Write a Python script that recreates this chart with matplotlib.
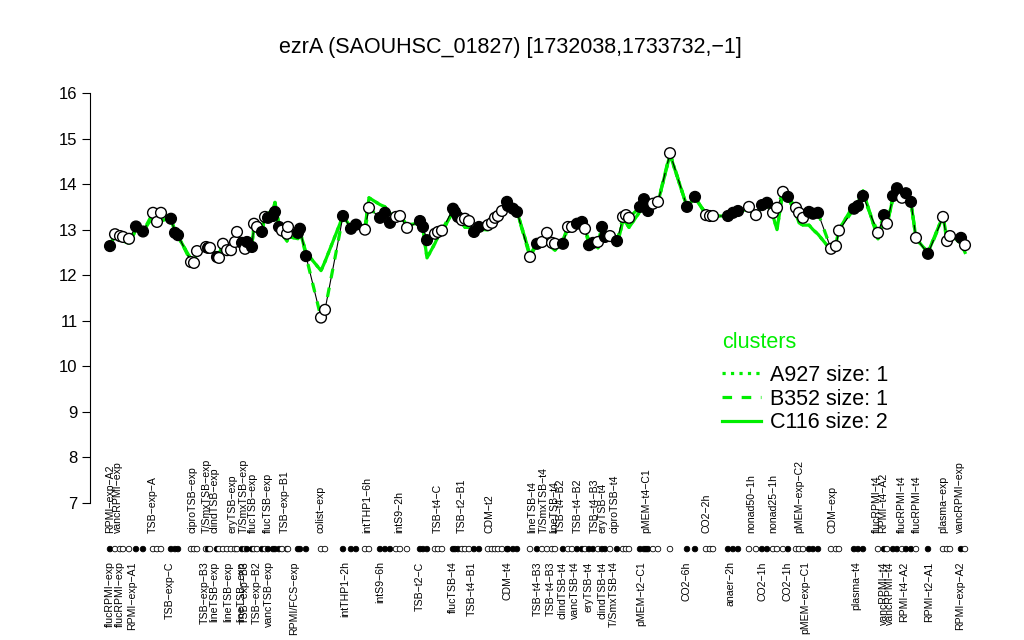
import matplotlib
matplotlib.use('Agg')
import matplotlib.pyplot as plt
from matplotlib.lines import Line2D
import matplotlib.transforms as mtransforms

plt.rcParams['font.family'] = ['Liberation Sans', 'DejaVu Sans']

title = "ezrA (SAOUHSC_01827) [1732038,1733732,\u22121]"

# sample positions along the (ordinal) condition axis
sample_pos = [0, 5, 10, 13, 19, 26, 33, 43, 47, 51, 61, 65, 68, 81, 84, 87, 96, 98, 100,
              107, 109, 113, 117, 121, 125, 127, 132, 135, 137, 142, 144, 147, 152, 155,
              158, 163, 165, 169, 172, 177, 178, 188, 190, 196, 211, 215, 233, 241, 246,
              255, 259, 270, 275, 280, 286, 290, 297, 310, 313, 317, 325, 328, 332, 343,
              345, 348, 352, 355, 359, 364, 369, 378, 382, 385, 388, 392, 397, 398, 403,
              407, 420, 427, 432, 437, 442, 445, 453, 458, 462, 467, 472, 475, 479, 483,
              488, 492, 495, 500, 507, 513, 516, 519, 530, 534, 536, 538, 543, 548, 560,
              577, 585, 596, 600, 603, 618, 623, 628, 639, 646, 652, 657, 663, 667, 673,
              678, 686, 689, 693, 699, 703, 708, 721, 726, 729, 744, 748, 753, 768, 774,
              777, 783, 787, 792, 796, 801, 806, 818, 833, 837, 840, 851, 855]

expr = [12.64, 12.90, 12.86, 12.84, 12.80, 13.07, 12.96, 13.37, 13.17, 13.37, 13.24, 12.93,
        12.88, 12.29, 12.27, 12.53, 12.62, 12.60, 12.60, 12.40, 12.38, 12.69, 12.55, 12.55,
        12.73, 12.95, 12.71, 12.58, 12.73, 12.62, 13.13, 13.06, 12.95, 13.28, 13.26, 13.30,
        13.39, 13.06, 12.98, 12.91, 13.06, 12.93, 13.02, 12.42, 11.07, 11.24, 13.30, 13.02,
        13.11, 13.00, 13.48, 13.26, 13.37, 13.15, 13.28, 13.30, 13.04, 13.19, 13.06, 12.77,
        12.91, 12.95, 12.98, 13.46, 13.39, 13.28, 13.21, 13.24, 13.19, 12.95, 13.06, 13.10,
        13.15, 13.26, 13.30, 13.41, 13.61, 13.52, 13.46, 13.39, 12.40, 12.69, 12.73, 12.93,
        12.71, 12.69, 12.69, 13.06, 13.06, 13.13, 13.17, 13.02, 12.66, 12.71, 12.73, 13.06,
        12.84, 12.86, 12.75, 13.28, 13.32, 13.26, 13.50, 13.67, 13.55, 13.41, 13.57, 13.61,
        14.68, 13.50, 13.72, 13.32, 13.30, 13.30, 13.30, 13.37, 13.41, 13.50, 13.32, 13.54,
        13.59, 13.37, 13.48, 13.83, 13.72, 13.48, 13.37, 13.26, 13.39, 13.35, 13.37, 12.58,
        12.64, 12.98, 13.46, 13.52, 13.74, 12.93, 13.32, 13.13, 13.74, 13.91, 13.70, 13.80,
        13.61, 12.82, 12.47, 13.28, 12.75, 12.86, 12.82, 12.66]

filled = [1, 0, 0, 0, 0, 1, 1, 0, 0, 0, 1, 1, 1, 0, 0, 0, 0, 1, 0, 1, 0, 0, 0, 0, 0, 0,
          1, 0, 1, 1, 0, 0, 1, 0, 1, 1, 1, 1, 0, 0, 0, 1, 1, 1, 0, 0, 1, 1, 1, 0, 0, 1,
          1, 1, 0, 0, 0, 1, 1, 1, 0, 0, 0, 1, 1, 1, 0, 0, 0, 1, 1, 0, 0, 0, 0, 0, 1, 1,
          1, 1, 0, 1, 0, 0, 0, 0, 1, 0, 0, 1, 1, 0, 1, 1, 0, 1, 1, 0, 1, 0, 0, 0, 1, 1,
          1, 1, 0, 0, 0, 1, 1, 0, 0, 0, 1, 1, 1, 0, 0, 1, 1, 0, 0, 0, 1, 0, 0, 0, 1, 1,
          1, 0, 0, 0, 1, 1, 1, 0, 1, 0, 1, 1, 0, 1, 1, 0, 1, 0, 0, 0, 1, 0]

# cluster C116 mean profile
c116 = [12.70, 12.85, 12.85, 12.75, 12.70, 13.00, 12.95, 13.30, 13.25, 13.20, 13.25, 12.95,
        12.85, 12.35, 12.30, 12.55, 12.60, 12.55, 12.60, 12.45, 12.45, 12.70, 12.60, 12.60,
        12.70, 12.85, 12.75, 12.65, 12.75, 12.70, 13.05, 13.05, 13.00, 13.30, 13.35, 13.45,
        13.60, 13.10, 12.90, 12.75, 12.85, 12.80, 12.95, 12.50, 12.10, 12.30, 13.30, 13.05,
        13.15, 13.05, 13.70, 13.55, 13.50, 13.35, 13.30, 13.30, 13.10, 13.15, 13.00, 12.38,
        12.70, 12.85, 12.95, 13.40, 13.35, 13.25, 13.15, 13.05, 13.05, 12.95, 13.00, 13.00,
        13.05, 13.20, 13.30, 13.45, 13.70, 13.55, 13.45, 13.40, 12.45, 12.70, 12.75, 12.85,
        12.60, 12.55, 12.75, 13.10, 13.10, 13.15, 13.15, 13.00, 12.75, 12.75, 12.60, 13.00,
        12.80, 12.80, 12.65, 13.20, 13.15, 13.05, 13.40, 13.55, 13.55, 13.45, 13.55, 13.60,
        14.65, 13.50, 13.70, 13.35, 13.30, 13.30, 13.30, 13.35, 13.40, 13.45, 13.30, 13.55,
        13.60, 13.30, 13.00, 13.85, 13.70, 13.35, 13.15, 13.10, 13.10, 13.00, 12.90, 12.55,
        12.70, 13.00, 13.55, 13.60, 13.85, 12.80, 13.25, 13.10, 13.70, 13.85, 13.65, 13.70,
        13.60, 12.80, 12.50, 13.30, 12.80, 12.90, 12.70, 12.50]

bottom_labels = ["flucRPMI\u2212exp", "flucRPMI\u2212exp", "RPMI\u2212exp\u2212A1", "TSB\u2212exp\u2212C",
                 "TSB\u2212exp\u2212B3", "lineTSB\u2212exp", "lineTSB\u2212exp", "lineTSB\u2212exp",
                 "TSB\u2212exp\u2212B3", "TSB\u2212exp\u2212B2", "vancTSB\u2212exp", "RPMI/FCS\u2212exp",
                 "intTHP1\u22122h", "intS9\u22126h", "TSB\u2212t2\u2212C", "flucTSB\u2212t4",
                 "TSB\u2212t4\u2212B1", "CDM\u2212t4", "TSB\u2212t4\u2212B3", "TSB\u2212t4\u2212B3",
                 "clindTSB\u2212t4", "vancTSB\u2212t4", "eryTSB\u2212t4", "clindTSB\u2212t4",
                 "T/SmxTSB\u2212t4", "pMEM\u2212t2\u2212C1", "CO2\u22126h", "anaer\u22122h",
                 "CO2\u22121h", "CO2\u22121h", "pMEM\u2212exp\u2212C1", "plasma\u2212t4",
                 "vancRPMI\u2212t4", "vancRPMI\u2212t4", "RPMI\u2212t4\u2212A2", "RPMI\u2212t2\u2212A1",
                 "RPMI\u2212exp\u2212A2"]
bottom_pos = [0, 10, 22, 60, 95, 104, 118, 131, 135, 147, 159, 184, 235, 270, 310, 343, 362,
              398, 428, 441, 452, 465, 479, 492, 504, 531, 577, 621, 653, 678, 695, 746, 774,
              780, 794, 819, 850]

top_labels = ["RPMI\u2212exp\u2212A2", "vancRPMI\u2212exp", "TSB\u2212exp\u2212A", "ciproTSB\u2212exp",
              "T/SmxTSB\u2212exp", "clindTSB\u2212exp", "eryTSB\u2212exp", "T/SmxTSB\u2212exp",
              "flucTSB\u2212exp", "flucTSB\u2212exp", "TSB\u2212exp\u2212B1", "colist\u2212exp",
              "intTHP1\u22126h", "intS9\u22122h", "TSB\u2212t4\u2212C", "TSB\u2212t2\u2212B1", "CDM\u2212t2",
              "lineTSB\u2212t4", "T/SmxTSB\u2212t4", "lineTSB\u2212t4", "TSB\u2212t4\u2212B2",
              "TSB\u2212t4\u2212B2", "TSB\u2212t4\u2212B3", "eryTSB\u2212t4", "ciproTSB\u2212t4",
              "pMEM\u2212t4\u2212C1", "CO2\u22122h", "nonad50\u22121h", "nonad25\u22121h",
              "pMEM\u2212exp\u2212C2", "CDM\u2212exp", "flucRPMI\u2212t4", "RPMI\u2212t4\u2212A2",
              "flucRPMI\u2212t4", "flucRPMI\u2212t4", "plasma\u2212exp", "vancRPMI\u2212exp"]
top_pos = [0, 8, 43, 82, 97, 105, 123, 134, 143, 158, 175, 211, 257, 289, 328, 352, 380, 422,
           434, 444, 451, 468, 485, 493, 504, 536, 597, 641, 663, 689, 723, 767, 773, 792, 807,
           833, 850]

cluster_names = ["A927 size: 1", "B352 size: 1", "C116 size: 2"]
legend_title = "clusters"
yticks = [7, 8, 9, 10, 11, 12, 13, 14, 15, 16]

green = '#00ee00'

fig = plt.figure(figsize=(10.24, 6.4), dpi=100)
ax = fig.add_axes([90 / 1024, 1 - 519.4 / 640, (985 - 90) / 1024, (519.4 - 76.6) / 640])
ax.set_xlim(-20, 875)
ax.set_ylim(6.64, 16.36)

ax.plot(sample_pos, c116, color=green, lw=2.3, ls='-', zorder=2)
ax.plot(sample_pos, c116, color=green, lw=2.3, ls=':', zorder=2)
ax.plot(sample_pos, expr, color='black', lw=0.8, zorder=3)
ax.plot(sample_pos, expr, color=green, lw=2.3, ls=(0, (3, 3)), zorder=3)

face = ['black' if f else 'white' for f in filled]
ax.scatter(sample_pos, expr, s=60, c=face, edgecolors='black', linewidths=1.0, zorder=4)

trans = mtransforms.blended_transform_factory(ax.transData, ax.transAxes)
ax.scatter(sample_pos, [-0.067] * len(sample_pos), s=16, c=face, edgecolors='black',
           linewidths=0.6, transform=trans, clip_on=False, zorder=4)

for lab, p in zip(bottom_labels, bottom_pos):
    ax.text(p, -0.095, lab, transform=trans, rotation=90, ha='center', va='top', fontsize=7.6)
for lab, p in zip(top_labels, top_pos):
    ax.text(p, -0.03, lab, transform=trans, rotation=90, ha='center', va='bottom', fontsize=7.6)

for s in ['top', 'right', 'bottom']:
    ax.spines[s].set_visible(False)
ax.spines['left'].set_bounds(7, 16)
ax.spines['left'].set_linewidth(0.8)
ax.set_xticks([])
ax.set_yticks(yticks)
ax.set_yticklabels([str(t) for t in yticks], fontsize=12)
ax.tick_params(axis='y', direction='out', length=6, width=0.8, pad=3)

handles = [Line2D([], [], color=green, lw=2.3, ls=':'),
           Line2D([], [], color=green, lw=2.3, ls=(0, (3, 3))),
           Line2D([], [], color=green, lw=2.3, ls='-')]
leg = fig.legend(handles, cluster_names, loc='upper left',
                 bbox_to_anchor=(722 / 1024, 1 - 365 / 640), frameon=False,
                 fontsize=15.5, handlelength=1.8, handletextpad=0.45,
                 labelspacing=0.12, borderpad=0, borderaxespad=0)
fig.text(722 / 1024, 1 - 343 / 640, legend_title, color=green, ha='left', va='center',
         fontsize=15.5)

fig.text(510 / 1024, 1 - 47 / 640, title, ha='center', va='center', fontsize=15.5)

fig.savefig('out.png', dpi=100)
